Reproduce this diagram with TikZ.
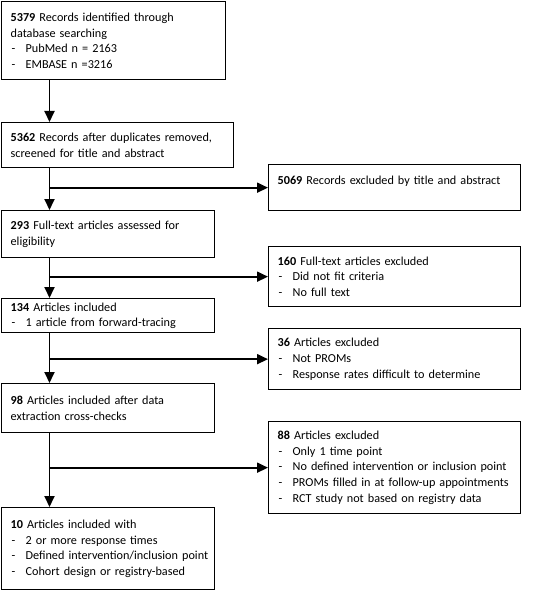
\documentclass[tikz,border=0pt]{standalone}
\usepackage{fontspec}
\setmainfont{Carlito}
\usetikzlibrary{arrows.meta}
\begin{document}
\begin{tikzpicture}[x=1pt,y=-1pt,
  box/.style={draw=black, line width=1.3pt, anchor=north west, align=left,
    inner xsep=9pt, inner ysep=0pt,
    font=\fontsize{12.2}{15.6}\selectfont},
  arr/.style={line width=1.8pt, -{Triangle[length=11pt,width=10pt]}},
  conn/.style={line width=1.8pt}]
\useasboundingbox (0,0) rectangle (550,591);
\newcommand{\itm}[1]{\mbox{\hspace*{1pt}\makebox[14pt][l]{-}#1}}
% left column
\node[box, text width=206pt, minimum height=78pt] (b1) at (1,1)
  {\mbox{\textbf{5379} Records identified through}\\database searching\\\itm{PubMed n = 2163}\\\itm{EMBASE n =3216}};
\node[box, text width=214pt, minimum height=45pt] (b2) at (1,122)
  {\mbox{\textbf{5362} Records after duplicates removed,}\\screened for title and abstract};
\node[box, text width=195pt, minimum height=47pt] (b4) at (1,210)
  {\textbf{293} Full-text articles assessed for\\eligibility};
\node[box, text width=195pt, minimum height=34pt] (b6) at (1,298)
  {\textbf{134} Articles included\\\itm{1 article from forward-tracing}};
\node[box, text width=195pt, minimum height=49pt] (b8) at (1,383)
  {\textbf{98} Articles included after data\\extraction cross-checks};
\node[box, text width=195pt, minimum height=82pt] (b10) at (1,507)
  {\textbf{10} Articles included with\\\itm{2 or more response times}\\\itm{Defined intervention/inclusion point}\\\itm{Cohort design or registry-based}};
% right column
\node[box, text width=234pt, minimum height=46pt] (b3) at (268,164)
  {\mbox{\textbf{5069} Records excluded by title and abstract}\\\mbox{}};
\node[box, text width=234pt, minimum height=60pt] (b5) at (268,246)
  {\textbf{160} Full-text articles excluded\\\itm{Did not fit criteria}\\\itm{No full text}};
\node[box, text width=234pt, minimum height=61pt] (b7) at (268,328)
  {\textbf{36} Articles excluded\\\itm{Not PROMs}\\\itm{Response rates difficult to determine}};
\node[box, text width=234pt, minimum height=92pt] (b9) at (268,421)
  {\textbf{88} Articles excluded\\\itm{Only 1 time point}\\\itm{No defined intervention or inclusion point}\\\itm{PROMs filled in at follow-up appointments}\\\itm{RCT study not based on registry data}};
% spine
\coordinate (sp) at (49.5,0);
\draw[arr] (sp |- b1.south) -- (sp |- b2.north);
\draw[arr] (sp |- b2.south) -- (sp |- b4.north);
\draw[arr] (sp |- b4.south) -- (sp |- b6.north);
\draw[arr] (sp |- b6.south) -- (sp |- b8.north);
\draw[arr] (sp |- b8.south) -- (sp |- b10.north);
\draw[arr] (sp |- b3.west) -- (b3.west);
\draw[arr] (sp |- b5.west) -- (b5.west);
\draw[arr] (sp |- b7.west) -- (b7.west);
\draw[arr] (sp |- b9.west) -- (b9.west);
\end{tikzpicture}
\end{document}
